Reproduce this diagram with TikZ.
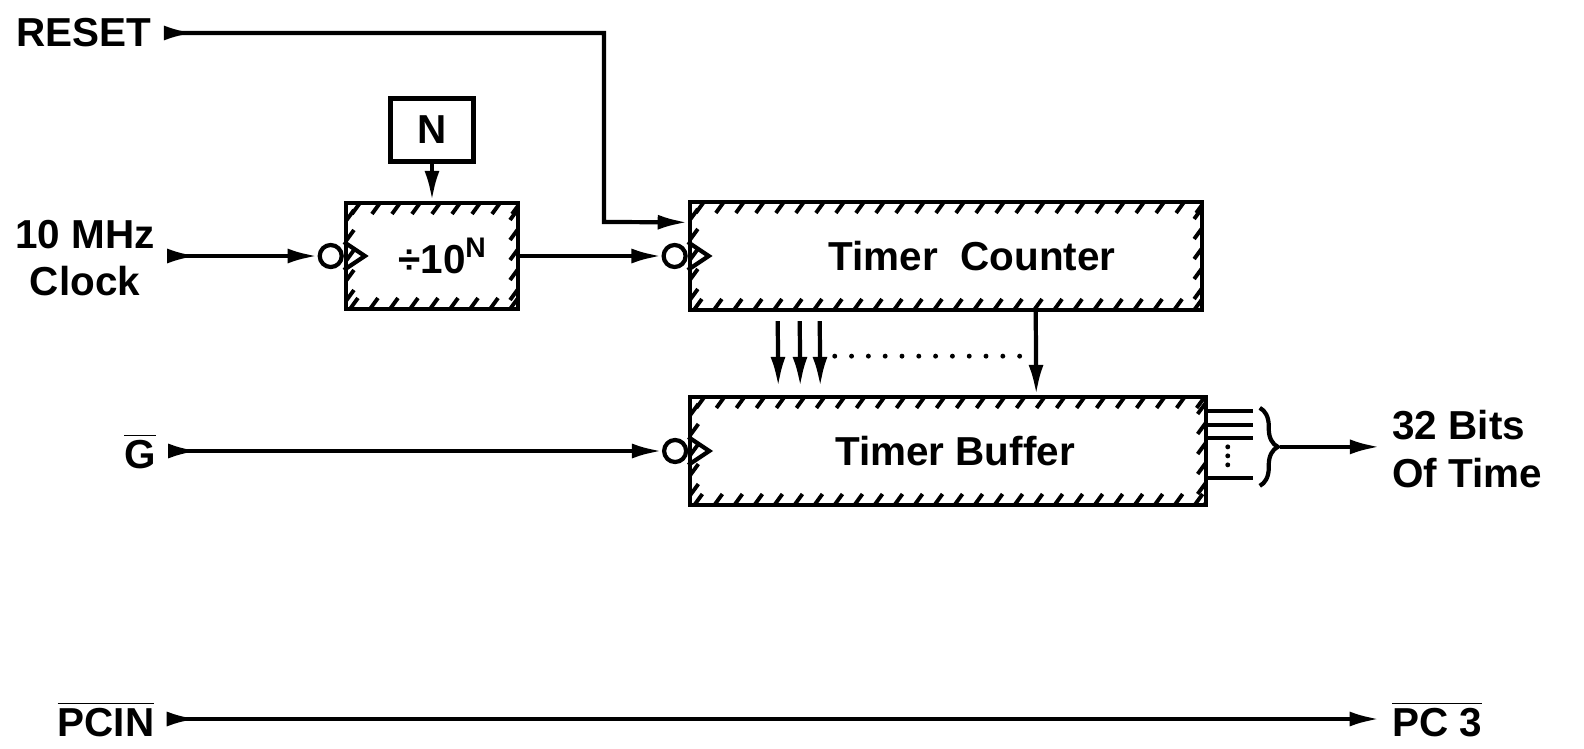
\documentclass[tikz,border=0pt]{standalone}
\usepackage{fontspec}
\setmainfont{Liberation Sans}
\usepackage{tikz}
\usetikzlibrary{arrows.meta,calc,decorations.pathreplacing}

\tikzset{
  wire/.style={line width=1.2pt},
  sig/.style={wire, -{Latex[length=0.3cm,width=0.15cm]}},
  insig/.style={wire, {Latex[length=0.3cm,width=0.15cm,reversed]}-{Latex[length=0.3cm,width=0.15cm]}},
  plainbox/.style={draw, line width=1.2pt, inner sep=0pt},
  hatchbox/.style={plainbox, path picture={
    \foreach \k in {0,...,27} {
      \draw[line width=1.1pt] ([xshift=\k*0.2cm+0.14cm]path picture bounding box.north west) -- ++(-0.08cm,-0.11cm);
      \draw[line width=1.1pt] ([xshift=\k*0.2cm+0.04cm]path picture bounding box.south west) -- ++(0.08cm,0.11cm);
      \draw[line width=1.1pt] ([yshift=-\k*0.2cm-0.18cm]path picture bounding box.north west) -- ++(0.08cm,0.11cm);
      \draw[line width=1.1pt] ([yshift=-\k*0.2cm-0.06cm]path picture bounding box.north east) -- ++(-0.08cm,-0.11cm);
    }}},
  bubble/.style={circle, draw, line width=1.2pt, inner sep=0pt, minimum size=0.22cm},
}

\begin{document}
\begin{tikzpicture}[x=0.01cm, y=-0.01cm, font=\fontsize{11.5}{13.5}\selectfont\bfseries]
\useasboundingbox (0,0) rectangle (1584,748);

% blocks
\node[plainbox, minimum width=0.83cm, minimum height=0.63cm] (nbox) at (432,130) {N};
\node[hatchbox, minimum width=1.72cm, minimum height=1.06cm] (div) at (432,256) {\hspace{0.22cm}\char"00F7 10\textsuperscript{N}};
\node[hatchbox, minimum width=5.12cm, minimum height=1.08cm] (tc) at (946,256) {};
\node[hatchbox, minimum width=5.15cm, minimum height=1.08cm] (tb) at (948,451) {};
\node (tctext) at (972,256) {Timer\ \ Counter};
\node (tbtext) at (955,451) {Timer Buffer};

% clock inputs
\foreach \b in {div,tc,tb} {
  \node[bubble, anchor=east] (\b-clk) at (\b.west) {};
  \draw[wire] ($(\b.west)+(0,-14)$) -- ($(\b.west)+(21,0)$) -- ($(\b.west)+(0,14)$);
}

% labels
\node (reset) at (84,33) {RESET};
\node[align=center] (clock) at (85,258) {10 MHz\\Clock};
\node (gate) at (140,451) {$\overline{\mbox{G}}$};
\node (pcin) at (106,719) {$\overline{\mbox{PCIN}}$};
\node (pcthree) at (1437,719) {$\overline{\mbox{PC 3}}$};
\node[align=left, anchor=west] (bits) at (1380,449) {32 Bits\\Of Time};

% connectors
\coordinate (tcrst) at ($(tc.north west)!0.2!(tc.south west)$);
\draw[insig] (reset.east) -| (604,222) -- (tcrst);
\draw[insig] (clock.east |- div-clk.west) -- (div-clk.west);
\draw[sig] (nbox.south) -- (div.north);
\draw[sig] (div.east) -- (tc-clk.west);
\draw[insig] (gate.east |- tb-clk.west) -- (tb-clk.west);
\draw[insig] (pcin.east) -- (pcthree.west);

\foreach \dx in {90,112,132}
  \draw[sig] ($(tc.south west)+(\dx,9)$) -- ($(tb.north west)+(\dx,-8)$);
\draw[sig] ($(tc.south west)+(348,0)$) -- ($(tb.north west)+(348,0)$);
\draw[wire, line width=1.4pt, line cap=round, dash pattern=on 0pt off 0.168cm] ($(tc.south west)+(147,44)$) -- ($(tc.south west)+(332,44)$);

% outputs
\foreach \dy in {16,30,43,83}
  \draw[wire] ($(tb.north east)+(0,\dy)$) -- ++(45,0);
\draw[wire, line width=1.4pt, line cap=round, dash pattern=on 0pt off 0.09cm] ($(tb.north east)+(20,52)$) -- ($(tb.north east)+(20,76)$);
\draw[wire, decorate, decoration={brace, amplitude=0.18cm}] ($(tb.north east)+(52,13)$) coordinate (bt) -- ($(tb.north east)+(52,91)$) coordinate (bb);
\coordinate (bracetip) at ($(bt)!0.5!(bb)+(20,0)$);
\draw[sig] (bracetip) -- (bits.west |- bracetip);

\end{tikzpicture}
\end{document}
